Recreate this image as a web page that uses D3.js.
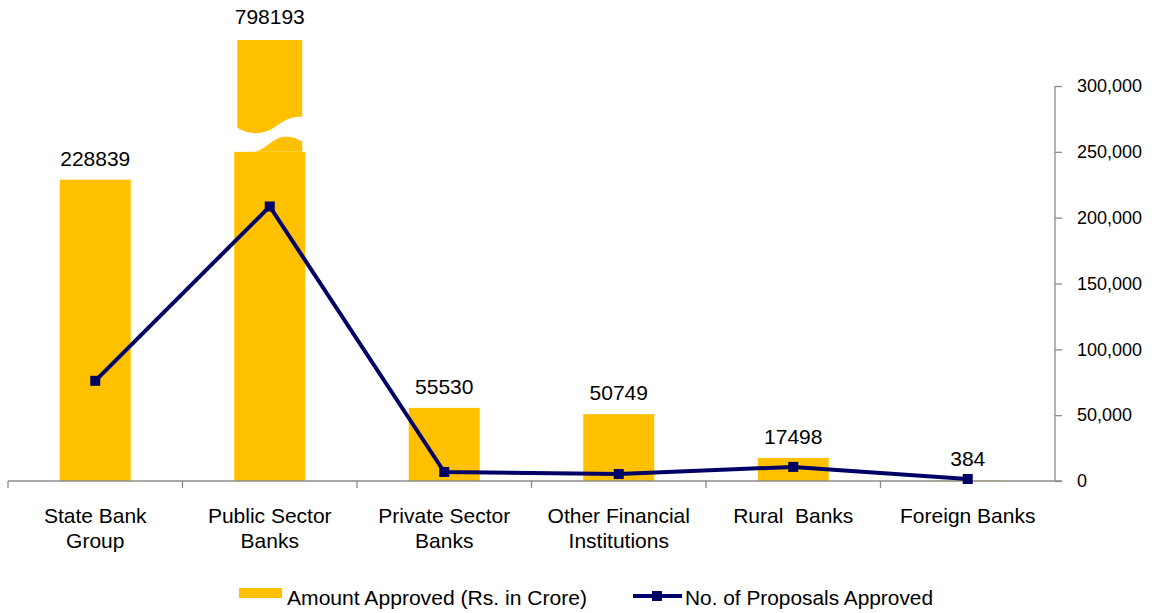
<!DOCTYPE html>
<html>
<head>
<meta charset="utf-8">
<script src="https://cdn.jsdelivr.net/npm/d3@7"></script>
<style>
  html, body { margin: 0; padding: 0; background: #fff; }
  svg { display: block; font-family: "Liberation Sans", Arial, sans-serif; }
</style>
</head>
<body>
<svg id="chart" width="1166" height="613"></svg>
<script>
// Sanction data by bank group
const categories = [
  ["State Bank", "Group"],
  ["Public Sector", "Banks"],
  ["Private Sector", "Banks"],
  ["Other Financial", "Institutions"],
  ["Rural  Banks"],
  ["Foreign Banks"]
];
const amountApproved = [228839, 798193, 55530, 50749, 17498, 384];
const proposalsApproved = [76100, 208500, 6850, 5300, 10700, 1500];
const axisTicks = [0, 50000, 100000, 150000, 200000, 250000, 300000];
const seriesNames = ["Amount Approved (Rs. in Crore)", "No. of Proposals Approved"];

const barColor = "#FFC000";
const lineColor = "#000066";
const axisColor = "#8c8c8c";

const svg = d3.select("#chart");
const plot = { left: 8, right: 1055, top: 86, bottom: 481 };

const keys = categories.map((c, i) => i);
const x = d3.scaleBand()
  .domain(keys)
  .range([plot.left, plot.right])
  .paddingInner(0.593)
  .paddingOuter(0.2965);

const y = d3.scaleLinear()
  .domain([0, 300000])
  .range([plot.bottom, plot.top]);

// values above this are shown on a broken bar
const breakLow = 250000;   // where the lower piece stops
const breakCap = 335000;   // where the upper piece is cut off

const bw = x.bandwidth();

// bars
const bars = svg.append("g");
amountApproved.forEach((v, i) => {
  const bx = x(i);
  if (v <= breakLow) {
    bars.append("rect")
      .attr("x", bx).attr("y", y(v))
      .attr("width", bw).attr("height", y(0) - y(v))
      .attr("fill", barColor);
  } else {
    const yLow = y(breakLow);
    const yTop = y(Math.min(v, breakCap));
    const L = bx + 3, R = bx + bw - 3;
    // lower piece
    bars.append("rect")
      .attr("x", bx).attr("y", yLow)
      .attr("width", bw).attr("height", y(0) - yLow)
      .attr("fill", barColor);
    // wave bump on the lower piece
    bars.append("path")
      .attr("d", `M${bx + 18},${yLow} C${bx + 30},${yLow} ${bx + 38},${yLow - 14} ${bx + 50},${yLow - 15}`
        + ` S${bx + 63},${yLow - 11} ${R},${yLow - 11} V${yLow} Z`)
      .attr("fill", barColor);
    // upper piece with wavy bottom edge
    bars.append("path")
      .attr("d", `M${L},${yTop} H${R} V${yLow - 35}`
        + ` C${R - 12},${yLow - 36} ${L + 45},${yLow - 30} ${L + 35},${yLow - 23}`
        + ` C${L + 22},${yLow - 16} ${L + 10},${yLow - 18} ${L},${yLow - 24} Z`)
      .attr("fill", barColor);
  }
});

// bar value labels
svg.append("g").selectAll("text")
  .data(amountApproved)
  .join("text")
  .attr("x", (d, i) => x(i) + bw / 2)
  .attr("y", d => y(Math.min(d, breakCap)) - (d > breakLow ? 16 : 14))
  .attr("text-anchor", "middle")
  .attr("font-size", 21)
  .attr("fill", "#000")
  .text(d => d);

// category axis
const xAxis = svg.append("g").attr("stroke", axisColor).attr("stroke-width", 1.3);
xAxis.append("line")
  .attr("x1", plot.left).attr("x2", plot.right + 7)
  .attr("y1", plot.bottom).attr("y2", plot.bottom);
const step = x.step();
d3.range(categories.length).forEach(i => {
  const tx = plot.left + i * step;
  xAxis.append("line").attr("x1", tx).attr("x2", tx)
    .attr("y1", plot.bottom).attr("y2", plot.bottom + 7);
});

svg.append("g").selectAll("text")
  .data(categories)
  .join("text")
  .attr("x", (d, i) => x(i) + bw / 2)
  .attr("y", 523)
  .attr("text-anchor", "middle")
  .attr("font-size", 21)
  .attr("fill", "#000")
  .selectAll("tspan")
  .data(d => d)
  .join("tspan")
  .attr("x", function () { return d3.select(this.parentNode).attr("x"); })
  .attr("dy", (d, j) => j === 0 ? 0 : 25)
  .attr("xml:space", "preserve")
  .text(d => d);

// value axis on the right
const yAxisG = svg.append("g")
  .attr("transform", `translate(${plot.right},0)`)
  .call(d3.axisRight(y).tickValues(axisTicks).tickSize(7).tickPadding(15)
    .tickFormat(d3.format(",")));
yAxisG.select(".domain").attr("stroke", axisColor).attr("stroke-width", 1.3)
  .attr("d", `M0,${plot.top}V${plot.bottom}`);
yAxisG.selectAll(".tick line").attr("stroke", axisColor).attr("stroke-width", 1.3);
yAxisG.selectAll(".tick text")
  .attr("font-size", 18)
  .attr("font-family", "'Liberation Sans', Arial, sans-serif")
  .attr("fill", "#000");

// proposals line
const line = d3.line()
  .x((d, i) => x(i) + bw / 2)
  .y(d => y(d));
svg.append("path")
  .datum(proposalsApproved)
  .attr("d", line)
  .attr("fill", "none")
  .attr("stroke", lineColor)
  .attr("stroke-width", 4)
  .attr("stroke-linejoin", "round");
svg.append("g").selectAll("rect")
  .data(proposalsApproved)
  .join("rect")
  .attr("x", (d, i) => x(i) + bw / 2 - 5)
  .attr("y", d => y(d) - 5)
  .attr("width", 10).attr("height", 10)
  .attr("fill", lineColor);

// legend
const legend = svg.append("g");
legend.append("rect")
  .attr("x", 239).attr("y", 588).attr("width", 43).attr("height", 10)
  .attr("fill", barColor);
legend.append("text")
  .attr("x", 287).attr("y", 605)
  .attr("font-size", 20)
  .attr("textLength", 300).attr("lengthAdjust", "spacingAndGlyphs")
  .text(seriesNames[0]);
legend.append("line")
  .attr("x1", 633).attr("x2", 682).attr("y1", 596).attr("y2", 596)
  .attr("stroke", lineColor).attr("stroke-width", 4);
legend.append("rect")
  .attr("x", 652).attr("y", 591).attr("width", 10).attr("height", 10)
  .attr("fill", lineColor);
legend.append("text")
  .attr("x", 685).attr("y", 605)
  .attr("font-size", 20)
  .attr("textLength", 248).attr("lengthAdjust", "spacingAndGlyphs")
  .text(seriesNames[1]);
</script>
</body>
</html>
